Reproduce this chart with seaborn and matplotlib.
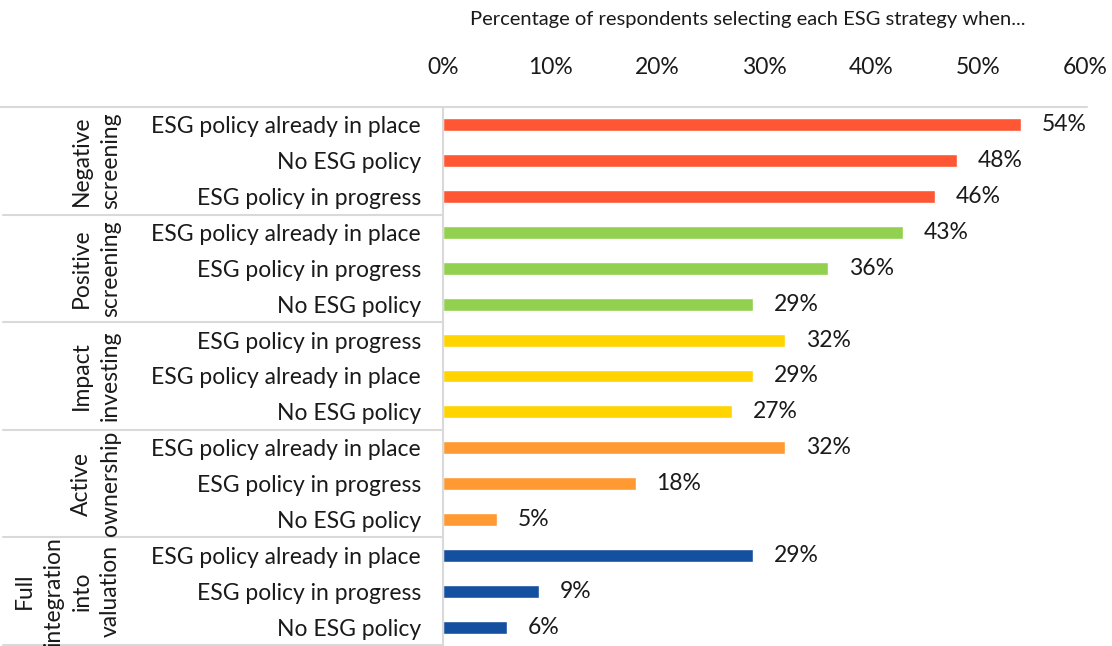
import matplotlib.pyplot as plt
import numpy as np
import pandas as pd
import seaborn as sns
from matplotlib.lines import Line2D


sns.set_theme(style="white")
plt.rcParams.update({"font.family": ["Lato", "DejaVu Sans"]})

groups = [
    "Negative\nscreening",
    "Positive\nscreening",
    "Impact\ninvesting",
    "Active\nownership",
    "Full\nintegration\ninto\nvaluation",
]
policies = [
    ["ESG policy already in place", "No ESG policy", "ESG policy in progress"],
    ["ESG policy already in place", "ESG policy in progress", "No ESG policy"],
    ["ESG policy in progress", "ESG policy already in place", "No ESG policy"],
    ["ESG policy already in place", "ESG policy in progress", "No ESG policy"],
    ["ESG policy already in place", "ESG policy in progress", "No ESG policy"],
]
values = [
    [54, 48, 46],
    [43, 36, 29],
    [32, 29, 27],
    [32, 18, 5],
    [29, 9, 6],
]
colors = ["#FF5733", "#92D050", "#FFD400", "#FF9A33", "#1550A0"]

rows = []
for g, (pols, vals) in enumerate(zip(policies, values)):
    for p, v in zip(pols, vals):
        rows.append({"row": str(len(rows)), "group": groups[g], "policy": p, "value": v / 100})
df = pd.DataFrame(rows)

W, H = 1112, 646
fig = plt.figure(figsize=(W / 100, H / 100), dpi=100)
x0, x1, y_top, y_bot = 443, 1085, 107, 645
ax = fig.add_axes([x0 / W, 1 - y_bot / H, (x1 - x0) / W, (y_bot - y_top) / H])

sns.barplot(
    data=df,
    x="value",
    y="row",
    hue="group",
    palette=colors,
    saturation=1,
    dodge=False,
    width=0.36,
    orient="h",
    legend=False,
    ax=ax,
)
ax.set_xlim(0, 0.6)
ax.set_ylim(14.5, -0.5)
ax.set_xlabel("")
ax.set_ylabel("")

fs = 16.5
txt = "#1a1a1a"
ax.xaxis.tick_top()
ax.set_xticks(np.arange(0, 0.61, 0.1))
ax.set_xticklabels([f"{int(round(t * 100))}%" for t in np.arange(0, 0.61, 0.1)])
ax.tick_params(axis="x", length=0, pad=21, labelsize=fs, colors=txt)
ax.set_yticks(range(len(df)))
ax.set_yticklabels(df["policy"])
ax.tick_params(axis="y", length=0, pad=16, labelsize=fs, colors=txt)

for c in ax.containers:
    ax.bar_label(c, labels=[f"{w * 100:.0f}%" for w in c.datavalues],
                 padding=15, fontsize=fs, color=txt)

for s in ["top", "right", "bottom"]:
    ax.spines[s].set_visible(False)
ax.spines["left"].set_color("#D9D9D9")
ax.spines["left"].set_linewidth(1.5)

line_col = "#D9D9D9"
fig.add_artist(Line2D([0, 1087 / W], [1 - y_top / H] * 2, color=line_col, lw=1.5))
for k in range(1, len(groups) + 1):
    yy = 1 - (y_top + k * 3 * (y_bot - y_top) / 15) / H
    fig.add_artist(Line2D([3 / W, x0 / W], [yy, yy], color=line_col, lw=1.5))

row_h = (y_bot - y_top) / 15
for g, name in enumerate(groups):
    yc = y_top + (g * 3 + 1.5) * row_h
    fig.text(121 / W, 1 - yc / H, name, rotation=90, ha="right", va="center",
             multialignment="center", fontsize=fs, color=txt, linespacing=1.45)

fig.text(748 / W, 1 - 20 / H,
         "Percentage of respondents selecting each ESG strategy when...",
         ha="center", va="center", fontsize=14.5, color=txt)

fig.savefig("out.png", dpi=100)
